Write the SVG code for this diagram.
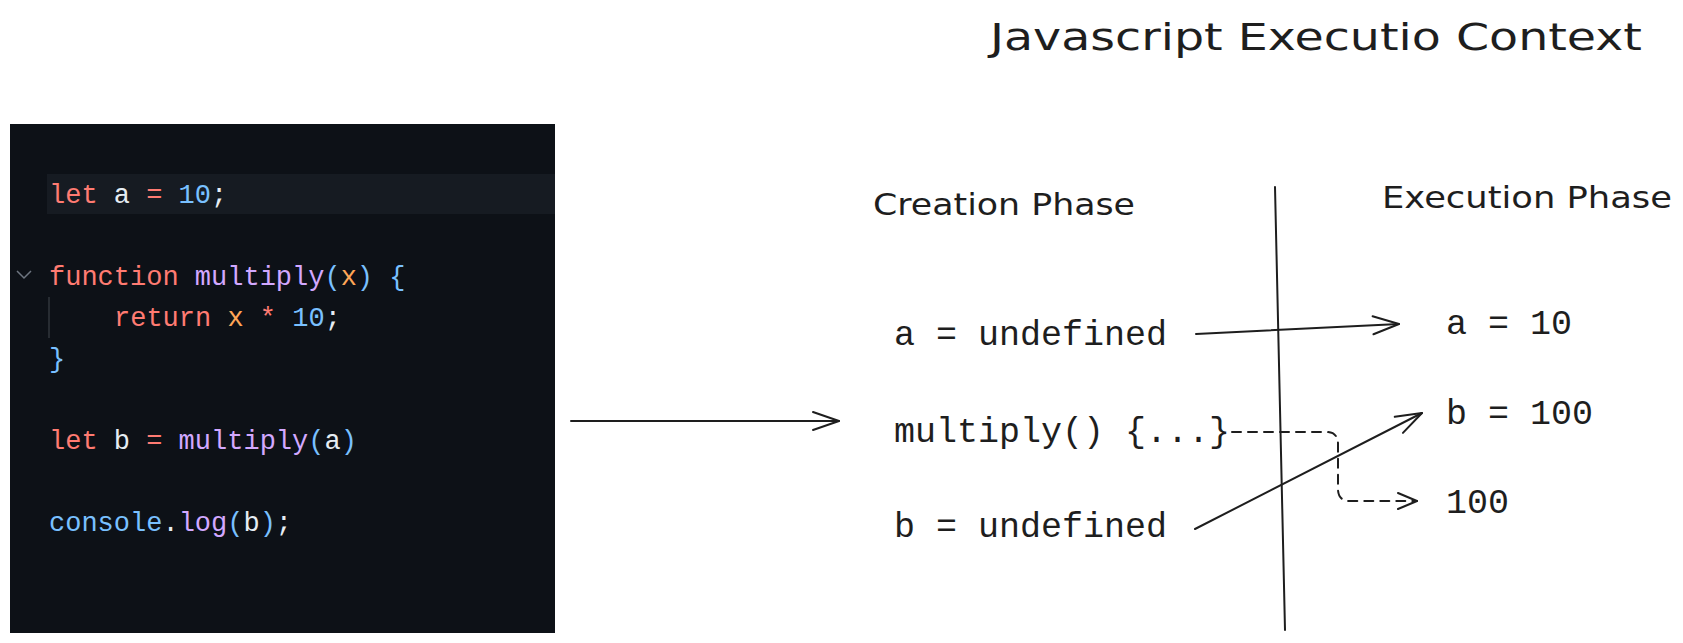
<svg xmlns="http://www.w3.org/2000/svg" width="1683" height="643" viewBox="0 0 1683 643">
  <defs>
    <style>
      .code { font-family: "Liberation Mono", "DejaVu Sans Mono", monospace; font-size: 27px; white-space: pre; }
      .kw { fill: #ff7b72; }
      .var { fill: #e6edf3; }
      .num { fill: #79c0ff; }
      .fn { fill: #d2a8ff; }
      .param { fill: #ffa657; }
      .br { fill: #79c0ff; }
      .hand { font-family: "DejaVu Sans", "Noto Sans", sans-serif; fill: #1e1e1e; }
      .mono { font-family: "Liberation Mono", "DejaVu Sans Mono", monospace; font-size: 35px; fill: #1e1e1e; white-space: pre; }
      .line { fill: none; stroke: #1e1e1e; stroke-width: 2; stroke-linecap: round; stroke-linejoin: round; }
    </style>
    <marker id="head" markerUnits="userSpaceOnUse" markerWidth="40" markerHeight="40" refX="0" refY="0" orient="auto" overflow="visible">
      <path d="M-26,-9 L0,0 L-26,9" fill="none" stroke="#1e1e1e" stroke-width="2" stroke-linecap="round" stroke-linejoin="round"/>
    </marker>
    <marker id="headSmall" markerUnits="userSpaceOnUse" markerWidth="40" markerHeight="40" refX="0" refY="0" orient="auto" overflow="visible">
      <path d="M-19,-8 L0,0 L-19,8" fill="none" stroke="#1e1e1e" stroke-width="2" stroke-linecap="round" stroke-linejoin="round"/>
    </marker>
  </defs>

  <rect x="0" y="0" width="1683" height="643" fill="#ffffff"/>

  <!-- Code screenshot panel -->
  <g id="code-panel">
    <rect x="10" y="124" width="545" height="509" fill="#0d1117"/>
    <rect x="47" y="174" width="508" height="40" fill="#161b22"/>
    <path d="M17,271 L24,278 L31,271" fill="none" stroke="#6e7681" stroke-width="1.5"/>
    <line x1="49" y1="297" x2="49" y2="338" stroke="#30363d" stroke-width="1.5"/>
    <text class="code" x="49" y="203"><tspan class="kw">let</tspan><tspan class="var"> a</tspan><tspan class="kw"> =</tspan><tspan class="num"> 10</tspan><tspan class="var">;</tspan></text>
    <text class="code" x="49" y="285"><tspan class="kw">function</tspan><tspan class="fn"> multiply</tspan><tspan class="br">(</tspan><tspan class="param">x</tspan><tspan class="br">)</tspan><tspan class="br"> {</tspan></text>
    <text class="code" x="114" y="326"><tspan class="kw">return</tspan><tspan class="param"> x</tspan><tspan class="kw"> *</tspan><tspan class="num"> 10</tspan><tspan class="var">;</tspan></text>
    <text class="code" x="49" y="367"><tspan class="br">}</tspan></text>
    <text class="code" x="49" y="449"><tspan class="kw">let</tspan><tspan class="var"> b</tspan><tspan class="kw"> =</tspan><tspan class="fn"> multiply</tspan><tspan class="br">(</tspan><tspan class="var">a</tspan><tspan class="br">)</tspan></text>
    <text class="code" x="49" y="531"><tspan class="num">console</tspan><tspan class="var">.</tspan><tspan class="fn">log</tspan><tspan class="br">(</tspan><tspan class="var">b</tspan><tspan class="br">)</tspan><tspan class="var">;</tspan></text>
  </g>

  <g id="title">
    <text class="hand" x="990" y="50" font-size="38" textLength="652" lengthAdjust="spacingAndGlyphs">Javascript Executio Context</text>
  </g>

  <g id="creation-phase-label">
    <text class="hand" x="873" y="215" font-size="30" textLength="262" lengthAdjust="spacingAndGlyphs">Creation Phase</text>
  </g>
  <g id="execution-phase-label">
    <text class="hand" x="1382" y="208" font-size="31" textLength="290" lengthAdjust="spacingAndGlyphs">Execution Phase</text>
  </g>

  <g id="divider">
    <path class="line" d="M1275,187 L1285,630"/>
  </g>

  <g id="node-a-undefined"><text class="mono" x="894" y="345">a = undefined</text></g>
  <g id="node-multiply"><text class="mono" x="894" y="442">multiply() {...}</text></g>
  <g id="node-b-undefined"><text class="mono" x="894" y="537">b = undefined</text></g>
  <g id="node-a-10"><text class="mono" x="1446" y="334">a = 10</text></g>
  <g id="node-b-100"><text class="mono" x="1446" y="424">b = 100</text></g>
  <g id="node-100"><text class="mono" x="1446" y="513">100</text></g>

  <g id="connectors">
    <path class="line" d="M571,421 L839,421" stroke-width="2.5" marker-end="url(#head)"/>
    <path class="line" d="M1196,334 L1399,324" marker-end="url(#head)"/>
    <path class="line" d="M1195,529 L1422,413" marker-end="url(#head)"/>
    <path class="line" d="M1232,432 L1326,432 Q1338,432 1338,444 L1338,489 Q1338,501 1350,501 L1417,501" stroke-dasharray="9 7" marker-end="url(#headSmall)"/>
  </g>
</svg>
